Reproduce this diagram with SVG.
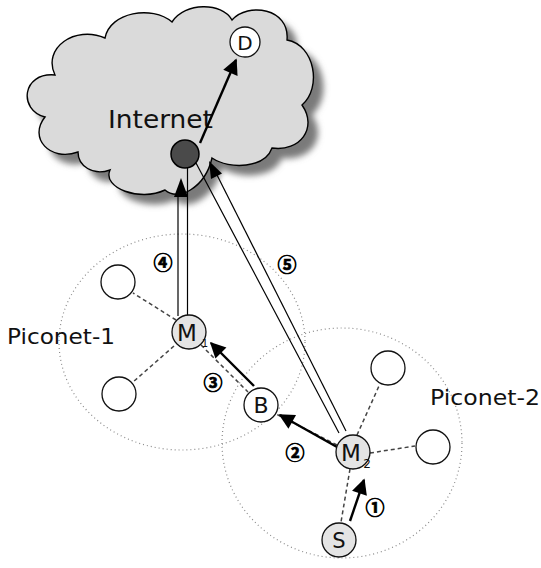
<svg xmlns="http://www.w3.org/2000/svg" width="541" height="568" viewBox="0 0 541 568">
<defs>
<style>
.lbl{font-family:"DejaVu Sans","Liberation Sans",sans-serif;fill:#111;}
.node{stroke:#111;stroke-width:1.3;}
.plain{fill:#fff;}
.gray{fill:#e4e4e4;}
.pico{fill:none;stroke:#8a8a8a;stroke-width:1.2;stroke-dasharray:1 3;}
.dash{stroke:#444;stroke-width:1.5;stroke-dasharray:4 3;fill:none;}
.arr{stroke:#000;stroke-width:2.4;fill:none;marker-end:url(#ah);}
.dbl{stroke:#000;stroke-width:1.2;fill:none;}
.num{font-family:"Noto Sans CJK KR","DejaVu Sans",sans-serif;font-weight:bold;font-size:19px;fill:#000;stroke:#000;stroke-width:0.7;text-anchor:middle;}
</style>
<marker id="ah" viewBox="0 0 10 10" refX="9" refY="5" markerWidth="7.5" markerHeight="6.5" orient="auto" markerUnits="strokeWidth">
<path d="M0,0 L10,5 L0,10 Z" fill="#000"/>
</marker>
<filter id="blur" x="-10%" y="-10%" width="120%" height="120%">
<feGaussianBlur stdDeviation="3"/>
</filter>
</defs>

<g id="piconets">
<ellipse class="pico" cx="182" cy="342" rx="123" ry="108"/>
<ellipse class="pico" cx="342" cy="443" rx="120" ry="115"/>
</g>

<g id="cloud">
<path transform="translate(10,10)" filter="url(#blur)" fill="#7a7a7a" d="M78,152 C50,162 28,138 45,117 C18,110 22,72 55,75 C42,48 75,25 105,38 C110,12 152,5 172,22 C185,2 222,2 232,20 C248,2 290,8 287,40 C315,45 322,88 302,105 C318,128 300,152 272,148 C265,168 230,170 212,158 C205,188 178,202 165,190 C140,202 102,188 110,170 C93,176 78,166 78,152 Z"/>
<path fill="#dadada" stroke="#000" stroke-width="1.4" d="M78,152 C50,162 28,138 45,117 C18,110 22,72 55,75 C42,48 75,25 105,38 C110,12 152,5 172,22 C185,2 222,2 232,20 C248,2 290,8 287,40 C315,45 322,88 302,105 C318,128 300,152 272,148 C265,168 230,170 212,158 C205,188 178,202 165,190 C140,202 102,188 110,170 C93,176 78,166 78,152 Z"/>
<text class="lbl" x="108" y="128" font-size="25" textLength="105" lengthAdjust="spacingAndGlyphs">Internet</text>
</g>

<g id="connectors">
<line class="dash" x1="176" y1="320" x2="133" y2="293"/>
<line class="dash" x1="174" y1="346" x2="133" y2="382"/>
<line class="dash" x1="201" y1="345" x2="248" y2="392"/>
<line class="dash" x1="337" y1="445" x2="276" y2="414"/>
<line class="dash" x1="357" y1="435" x2="379" y2="386"/>
<line class="dash" x1="370" y1="453" x2="415" y2="446"/>
<line class="dash" x1="350" y1="469" x2="341" y2="522"/>
<line class="arr" x1="200" y1="143" x2="236" y2="60"/>
<line class="arr" x1="254" y1="386" x2="211" y2="343"/>
<line class="arr" x1="337" y1="447" x2="280" y2="415"/>
<line class="arr" x1="350" y1="521" x2="364" y2="480"/>
<line class="dbl" x1="178" y1="193" x2="178" y2="316"/>
<line class="dbl" x1="187.5" y1="168" x2="187.5" y2="315"/>
<polygon points="181,178 174,197 188,197" fill="#000"/>
<line class="dbl" x1="196" y1="163" x2="339" y2="433"/>
<line class="dbl" x1="217" y1="175" x2="346" y2="431"/>
<polygon points="209,161 222,173.5 211,179" fill="#000"/>
</g>

<g id="labels">
<text class="num" x="163" y="270">④</text>
<text class="num" x="287" y="272">⑤</text>
<text class="num" x="213" y="390">③</text>
<text class="num" x="295" y="460">②</text>
<text class="num" x="375" y="515">①</text>
<text class="lbl" x="7" y="344" font-size="22" textLength="108" lengthAdjust="spacingAndGlyphs">Piconet-1</text>
<text class="lbl" x="430" y="405" font-size="22" textLength="110" lengthAdjust="spacingAndGlyphs">Piconet-2</text>
</g>

<g id="node-R">
<circle cx="185" cy="154" r="14" fill="#4a4a4a" stroke="#000" stroke-width="1.5"/>
</g>
<g id="node-D">
<circle class="node plain" cx="245" cy="42" r="15"/>
<text class="lbl" x="245" y="50" font-size="20" text-anchor="middle">D</text>
</g>
<g id="node-P1a">
<circle class="node plain" cx="118" cy="282" r="17"/>
</g>
<g id="node-P1b">
<circle class="node plain" cx="119" cy="394" r="17"/>
</g>
<g id="node-M1">
<circle class="node gray" cx="189" cy="332" r="17"/>
<text class="lbl" x="187" y="341" font-size="23" text-anchor="middle">M</text>
<text class="lbl" x="205" y="347" font-size="10" text-anchor="middle">1</text>
</g>
<g id="node-B">
<circle class="node plain" cx="261" cy="405" r="17"/>
<text class="lbl" x="261" y="413" font-size="22" text-anchor="middle">B</text>
</g>
<g id="node-M2">
<circle class="node gray" cx="353" cy="452" r="17"/>
<text class="lbl" x="351" y="461" font-size="23" text-anchor="middle">M</text>
<text class="lbl" x="367" y="468" font-size="12" text-anchor="middle">2</text>
</g>
<g id="node-S">
<circle class="node gray" cx="339" cy="540" r="17"/>
<text class="lbl" x="339" y="548" font-size="21" text-anchor="middle">S</text>
</g>
<g id="node-P2a">
<circle class="node plain" cx="388" cy="368" r="17"/>
</g>
<g id="node-P2b">
<circle class="node plain" cx="433" cy="447" r="17"/>
</g>
</svg>
